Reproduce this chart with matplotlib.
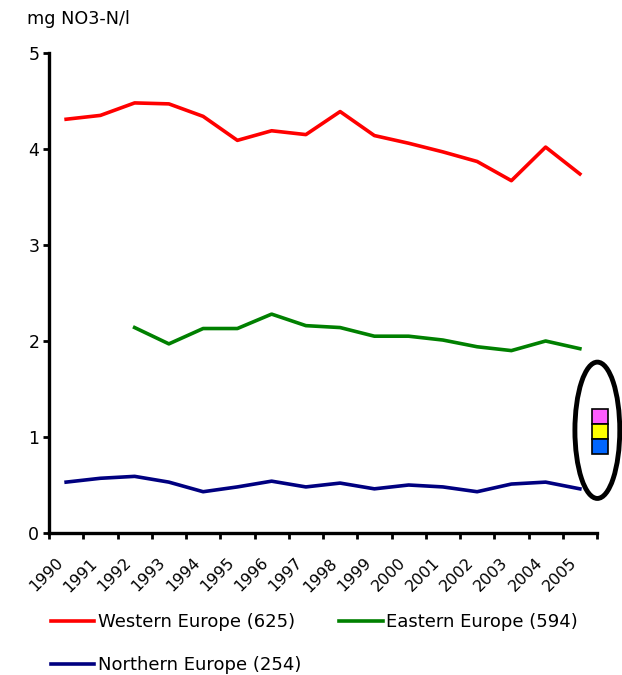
import numpy as np
import matplotlib
matplotlib.use("Agg")
import matplotlib.pyplot as plt
from matplotlib.patches import Ellipse, Rectangle
from matplotlib.transforms import ScaledTranslation

years = [str(y) for y in range(1990, 2006)]

western = [4.31, 4.35, 4.48, 4.47, 4.34, 4.09, 4.19, 4.15, 4.39, 4.14,
           4.06, 3.97, 3.87, 3.67, 4.02, 3.74]
eastern = [np.nan, np.nan, 2.14, 1.97, 2.13, 2.13, 2.28, 2.16, 2.14, 2.05,
           2.05, 2.01, 1.94, 1.90, 2.00, 1.92]
northern = [0.53, 0.57, 0.59, 0.53, 0.43, 0.48, 0.54, 0.48, 0.52, 0.46,
            0.50, 0.48, 0.43, 0.51, 0.53, 0.46]

labels = ["Western Europe (625)", "Eastern Europe (594)", "Northern Europe (254)"]
colors = ["#FF0000", "#008000", "#000080"]
square_colors = ["#FF5CFF", "#FFFF00", "#0066FF"]

fig = plt.figure(figsize=(6.22, 6.75), dpi=100)
ax = fig.add_axes([49 / 622, 1 - 533 / 675, 548 / 622, 480 / 675])

x = np.arange(len(years))
lines = []
for vals, lab, col in zip([western, eastern, northern], labels, colors):
    ln, = ax.plot(x, vals, color=col, lw=2.6, label=lab)
    lines.append(ln)

ax.set_xlim(-0.5, len(years) - 0.5)
ax.set_ylim(0, 5)

for s in ["top", "right"]:
    ax.spines[s].set_visible(False)
for s in ["left", "bottom"]:
    ax.spines[s].set_linewidth(2.4)
    ax.spines[s].set_capstyle("projecting")

ax.set_yticks([0, 1, 2, 3, 4, 5])
ax.tick_params(axis="y", length=4, width=2, labelsize=12.5, pad=3)

ax.set_xticks(x)
ax.set_xticklabels(years, rotation=45, ha="right", rotation_mode="anchor", fontsize=11.5)
ax.set_xticks(np.arange(-0.5, len(years)), minor=True)
ax.tick_params(axis="x", which="major", length=0, pad=16)
ax.tick_params(axis="x", which="minor", length=4, width=2)
shift = ScaledTranslation(-0.11, 0, fig.dpi_scale_trans)
for lbl in ax.get_xticklabels():
    lbl.set_transform(lbl.get_transform() + shift)

fig.text(27 / 622, 1 - 19 / 675, "mg NO3-N/l", fontsize=12.7, va="center", ha="left")

# ellipse with coloured squares at the right
ell = Ellipse((15.51, 1.07), 1.31, 1.42, fill=False, lw=3.5, ec="black", clip_on=False)
ax.add_patch(ell)
sq_w = 0.467
sq_h = 0.156
for i, c in enumerate(square_colors):
    y0 = 1.29 - (i + 1) * sq_h
    ax.add_patch(Rectangle((15.35, y0), sq_w, sq_h, fc=c, ec="black", lw=1.2, clip_on=False))

leg = fig.legend([lines[0], lines[2], lines[1]], [labels[0], labels[2], labels[1]],
                 ncol=2, frameon=False, fontsize=13,
                 loc="upper left", bbox_to_anchor=(51 / 622, 1 - 613 / 675),
                 handlelength=2.4, handletextpad=0.2, columnspacing=2.1,
                 labelspacing=1.38, borderaxespad=0, borderpad=0)

fig.savefig("out.png", dpi=100)
